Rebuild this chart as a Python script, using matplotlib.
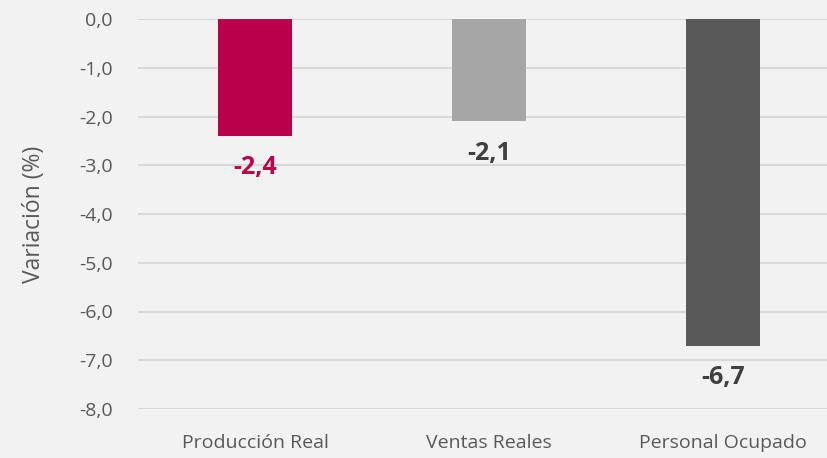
import matplotlib
matplotlib.use("Agg")
import matplotlib.pyplot as plt

plt.rcParams['font.family'] = ['Open Sans', 'DejaVu Sans']

categorias = ["Producción Real", "Ventas Reales", "Personal Ocupado"]
variacion = [-2.4, -2.1, -6.7]
colores = ["#BA0049", "#A6A6A6", "#595959"]
colores_etiq = ["#BA0049", "#404040", "#404040"]
yticks = [0, -1, -2, -3, -4, -5, -6, -7, -8]

fig = plt.figure(figsize=(8.27, 4.58), dpi=100)
fig.patch.set_facecolor("#F2F2F2")
ax = fig.add_axes([138/827, 49/458, 702/827, 390/458])
ax.set_facecolor("#F2F2F2")

x = list(range(len(categorias)))
ax.bar(x, variacion, width=0.316, color=colores, zorder=3)
for xi, v, c in zip(x, variacion, colores_etiq):
    ax.annotate(f"{v:.1f}".replace(".", ","), (xi, v), xytext=(0, -14),
                textcoords="offset points", ha="center", va="top",
                fontsize=18, fontweight="bold", color=c)

ax.set_xlim(-0.5, 2.5)
ax.set_ylim(-8, 0)
ax.set_yticks(yticks)
ax.set_yticklabels([f"{t:.1f}".replace(".", ",") for t in yticks])
ax.set_xticks(x)
ax.set_xticklabels(categorias)
ax.tick_params(axis="both", length=0, labelsize=14, colors="#595959")
ax.tick_params(axis="y", pad=18)
ax.tick_params(axis="x", pad=18)
ax.yaxis.grid(True, color="#D9D9D9", linewidth=1.5, zorder=0)
for s in ax.spines.values():
    s.set_visible(False)
ax.set_ylabel("Variación (%)", fontsize=16.5, color="#595959", labelpad=24)

fig.savefig("out.png", dpi=100, facecolor=fig.get_facecolor())
